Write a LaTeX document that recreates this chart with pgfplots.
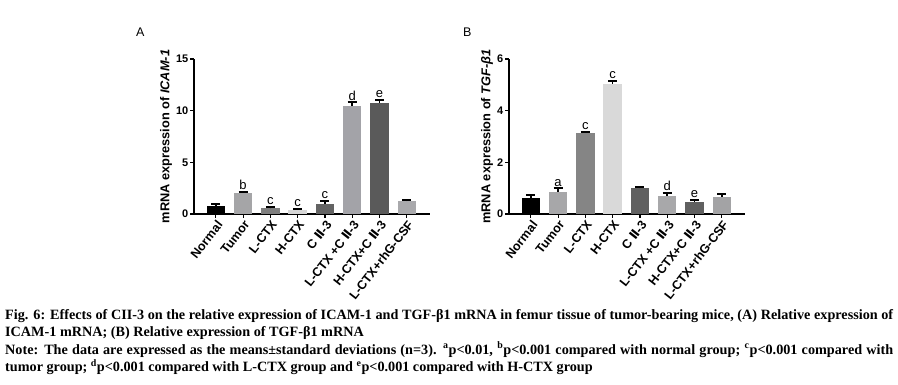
\documentclass[border=0pt]{standalone}
\usepackage{pgfplots}
\pgfplotsset{compat=1.18}
\usepackage{fontspec}
\setmainfont{Liberation Sans}
\newfontfamily\capfont{Liberation Serif}
\newfontfamily\djv{DejaVu Sans}
\newcommand{\CII}{C {\djv\bfseries Ⅱ}-3}
\definecolor{cA2}{HTML}{A5A5A7}
\definecolor{cA3}{HTML}{7F7F7F}
\definecolor{cA4}{HTML}{D6D6D6}
\definecolor{cA5}{HTML}{636363}
\definecolor{cA6}{HTML}{A3A3A8}
\definecolor{cA7}{HTML}{5A5A5A}
\definecolor{cA8}{HTML}{A9A9AC}
\definecolor{cB2}{HTML}{A7A7A9}
\definecolor{cB3}{HTML}{858585}
\definecolor{cB4}{HTML}{D9D9D9}
\definecolor{cB5}{HTML}{606060}
\definecolor{cB6}{HTML}{A8A8AA}
\definecolor{cB7}{HTML}{606060}
\definecolor{cB8}{HTML}{A3A3A5}
\pgfplotsset{
  mybars/.style={
    scale only axis, width=236pt, height=155pt,
    anchor=south west,
    axis x line*=bottom, axis y line*=left,
    axis line style={line width=1.3pt, -},
    every tick/.style={line width=1.2pt, black},
    major tick length=4pt, tick align=outside,
    ymin=0, xmin=-0.8, xmax=7.85,
    xtick={0,...,7},
    xticklabels={Normal,Tumor,L-CTX,H-CTX,\CII,L-CTX +\CII,H-CTX+\CII,L-CTX+rhG-CSF},
    x tick label style={rotate=52, anchor=north east, inner sep=1pt, font=\bfseries\fontsize{12.5}{14}\selectfont},
    y tick label style={font=\bfseries\fontsize{11}{13}\selectfont, inner sep=1.5pt},
    /pgf/number format/assume math mode=true,
    ylabel near ticks,
    ylabel style={font=\bfseries\fontsize{12.8}{14}\selectfont, yshift=-1pt},
    ybar, bar width=18.5pt, bar shift=0pt,
    every axis plot/.append style={draw=none},
    error bars/y dir=plus, error bars/y explicit,
    error bars/error bar style={line width=1.5pt, black, solid},
    error bars/error mark options={black, line width=2pt, mark size=4.5pt, rotate=90},
    clip=false,
  },
}
\tikzset{lett/.style={anchor=south, inner sep=1.5pt, font=\fontsize{13}{14}\selectfont}}
\begin{document}
\begin{tikzpicture}[x=1pt,y=1pt]
\path[use as bounding box] (0pt,0pt) rectangle (898pt,385pt);
\node[anchor=base west, inner sep=0, font=\fontsize{12.5}{14}\selectfont] at (136pt,348pt) {A};
\node[anchor=base west, inner sep=0, font=\fontsize{12.5}{14}\selectfont] at (463pt,348pt) {B};

\begin{axis}[mybars, at={(194pt,171pt)}, ymax=15, ytick={0,5,10,15},
  ylabel={mRNA expression of \textit{ICAM-1}}]
\addplot[fill=black] coordinates {(0,0.75) +- (0,0.2)};
\addplot[fill=cA2] coordinates {(1,2.05) +- (0,0.1)};
\addplot[fill=cA3] coordinates {(2,0.55) +- (0,0.1)};
\addplot[fill=cA4] coordinates {(3,0.4) +- (0,0.1)};
\addplot[fill=cA5] coordinates {(4,1.0) +- (0,0.25)};
\addplot[fill=cA6] coordinates {(5,10.45) +- (0,0.35)};
\addplot[fill=cA7] coordinates {(6,10.75) +- (0,0.3)};
\addplot[fill=cA8] coordinates {(7,1.25) +- (0,0.15)};
\node[lett] at (axis cs:1,2.2) {b};
\node[lett] at (axis cs:2,0.7) {c};
\node[lett] at (axis cs:3,0.55) {c};
\node[lett] at (axis cs:4,1.3) {c};
\node[lett] at (axis cs:5,10.85) {d};
\node[lett] at (axis cs:6,11.1) {e};
\end{axis}

\begin{axis}[mybars, at={(509pt,171pt)}, ymax=6, ytick={0,2,4,6},
  ylabel={mRNA expression of \textit{TGF-β1}}]
\addplot[fill=black] coordinates {(0,0.63) +- (0,0.12)};
\addplot[fill=cB2] coordinates {(1,0.87) +- (0,0.12)};
\addplot[fill=cB3] coordinates {(2,3.15) +- (0,0.04)};
\addplot[fill=cB4] coordinates {(3,5.05) +- (0,0.1)};
\addplot[fill=cB5] coordinates {(4,1.0) +- (0,0.05)};
\addplot[fill=cB6] coordinates {(5,0.7) +- (0,0.12)};
\addplot[fill=cB7] coordinates {(6,0.47) +- (0,0.07)};
\addplot[fill=cB8] coordinates {(7,0.67) +- (0,0.12)};
\node[lett] at (axis cs:1,1.0) {a};
\node[lett] at (axis cs:2,3.2) {c};
\node[lett] at (axis cs:3,5.16) {c};
\node[lett] at (axis cs:5,0.83) {d};
\node[lett] at (axis cs:6,0.55) {e};
\end{axis}

\node[anchor=north west, inner sep=0, align=left, font=\capfont\bfseries\fontsize{14.2}{17.5}\selectfont] at (5pt,76pt) {%
\makebox[888pt][s]{Fig. 6: Effects of CII-3 on the relative expression of ICAM-1 and TGF-β1 mRNA in femur tissue of tumor-bearing mice, (A) Relative expression of}\\
ICAM-1 mRNA; (B) Relative expression of TGF-β1 mRNA\\
\makebox[888pt][s]{Note: The data are expressed as the means±standard deviations (n=3). \textsuperscript{a}p<0.01, \textsuperscript{b}p<0.001 compared with normal group; \textsuperscript{c}p<0.001 compared with}\\
tumor group; \textsuperscript{d}p<0.001 compared with L-CTX group and \textsuperscript{e}p<0.001 compared with H-CTX group};
\end{tikzpicture}
\end{document}
